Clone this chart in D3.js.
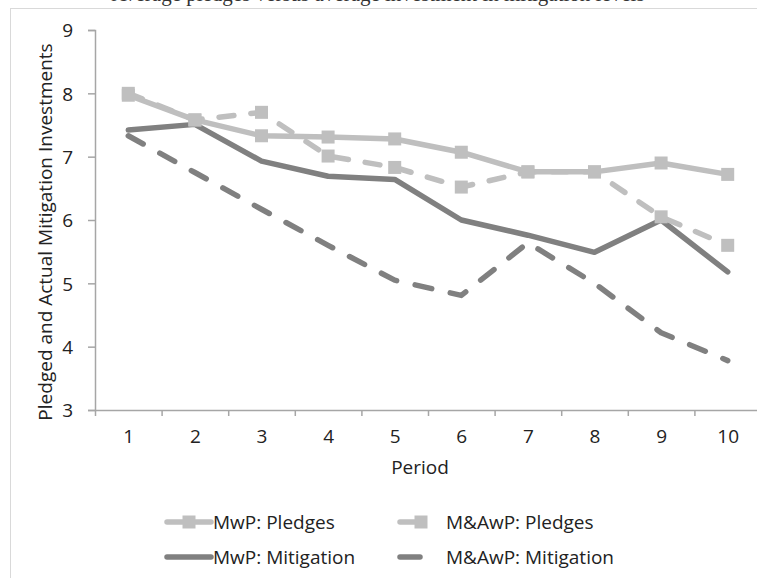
<!DOCTYPE html>
<html><head><meta charset="utf-8">
<script src="https://cdn.jsdelivr.net/npm/d3@7"></script>
<style>body{margin:0;background:#fff}svg{display:block}text{font-family:"Open Sans",sans-serif}</style>
</head><body>
<svg id="c" width="757" height="578"></svg>
<script>
const periods = [1,2,3,4,5,6,7,8,9,10];
const mwpPledges = [7.97,7.58,7.33,7.31,7.28,7.07,6.76,6.76,6.90,6.72];
const mawpPledges = [8.00,7.58,7.70,7.01,6.83,6.52,6.76,6.76,6.05,5.60];
const mwpMitigation = [7.42,7.51,6.93,6.69,6.64,6.00,5.76,5.49,6.00,5.18];
const mawpMitigation = [7.33,6.75,6.17,5.60,5.05,4.81,5.64,5.00,4.22,3.78];
const yTicks = [3,4,5,6,7,8,9];
const seriesNames = ["MwP: Pledges","M&AwP: Pledges","MwP: Mitigation","M&AwP: Mitigation"];
const titleText = "Average pledges versus average investment in mitigation levels";

const svg = d3.select("#c");
const LIGHT = "#bfbfbf", DARK = "#808080", AXIS = "#a6a6a6";
const FS = "19px";

// frame / cut-off title
svg.append("text").attr("x", 378).attr("y", 1).attr("text-anchor","middle")
  .style("font-family","'Liberation Serif',serif").style("font-size","21px").attr("fill","#333").text(titleText);
svg.append("rect").attr("x",10.5).attr("y",8.5).attr("width",800).attr("height",600)
  .attr("fill","none").attr("stroke","#d9d9d9");

const x = d3.scaleLinear().domain([0.5,10.5]).range([95,761]);
const y = d3.scaleLinear().domain([3,9]).range([410,30]);

// y axis
const ya = svg.append("g").attr("transform","translate(95,0)")
  .call(d3.axisLeft(y).tickValues(yTicks).tickSize(7).tickFormat(d3.format("d")));
ya.select(".domain").attr("stroke",AXIS).attr("stroke-width",1.5);
ya.selectAll(".tick line").attr("stroke",AXIS).attr("stroke-width",1.5);
ya.selectAll(".tick text").attr("fill","#222").style("font-size",FS).attr("x",-22).attr("dy","0.36em");

// x axis: tick marks between categories, labels at centres
const xm = svg.append("g").attr("transform","translate(0,410)")
  .call(d3.axisBottom(x).tickValues(d3.range(0.5,11,1)).tickSize(6).tickFormat("").tickSizeOuter(0));
xm.select(".domain").attr("stroke",AXIS).attr("stroke-width",1.5);
xm.selectAll(".tick line").attr("stroke",AXIS).attr("stroke-width",1.5);
const xl = svg.append("g").attr("transform","translate(0,410)")
  .call(d3.axisBottom(x).tickValues(periods).tickSize(0).tickFormat(d3.format("d")));
xl.select(".domain").remove();
xl.selectAll(".tick text").attr("fill","#222").style("font-size",FS).attr("y",20);

svg.append("text").attr("x",420).attr("y",467).attr("dy","0.36em").attr("text-anchor","middle")
  .attr("fill","#222").style("font-size",FS).text("Period");
svg.append("text").attr("transform","translate(45,232) rotate(-90)").attr("dy","0.36em").attr("text-anchor","middle")
  .attr("fill","#222").style("font-size",FS).text("Pledged and Actual Mitigation Investments");

const line = d3.line().x((d,i)=>x(periods[i])).y(d=>y(d));
const series = [
  {v: mawpMitigation, c: DARK, dash: "17,19", sq:false},
  {v: mwpMitigation, c: DARK, dash: null, sq:false},
  {v: mawpPledges, c: LIGHT, dash: "15,17", sq:true},
  {v: mwpPledges, c: LIGHT, dash: null, sq:true},
];
series.forEach(s=>{
  svg.append("path").datum(s.v).attr("d",line).attr("fill","none")
    .attr("stroke",s.c).attr("stroke-width",5.5).attr("stroke-linecap","round").attr("stroke-linejoin","round")
    .attr("stroke-dasharray",s.dash);
  if(s.sq){
    svg.selectAll(null).data(s.v).enter().append("rect")
      .attr("x",(d,i)=>x(periods[i])-6.5).attr("y",d=>y(d)-6.5).attr("width",13).attr("height",13).attr("fill",s.c);
  }
});

// legend
const leg = [
  {name: seriesNames[0], c: LIGHT, x0:167, x1:211, sq:189, tx:213, ty:522},
  {name: seriesNames[1], c: LIGHT, x0:400, x1:424, sq:421, tx:446, ty:522},
  {name: seriesNames[2], c: DARK, x0:167, x1:211, sq:null, tx:213, ty:557},
  {name: seriesNames[3], c: DARK, x0:400, x1:420, sq:null, tx:446, ty:557},
];
leg.forEach(l=>{
  svg.append("line").attr("x1",l.x0).attr("x2",l.x1).attr("y1",l.ty).attr("y2",l.ty)
    .attr("stroke",l.c).attr("stroke-width",5.5).attr("stroke-linecap","round");
  if(l.sq){
    svg.append("rect").attr("x",l.sq-6.5).attr("y",l.ty-6.5).attr("width",13).attr("height",13).attr("fill",l.c);
  }
  svg.append("text").attr("x",l.tx).attr("y",l.ty).attr("dy","0.36em").attr("fill","#222")
    .style("font-size",FS).text(l.name);
});
</script>
</body></html>
